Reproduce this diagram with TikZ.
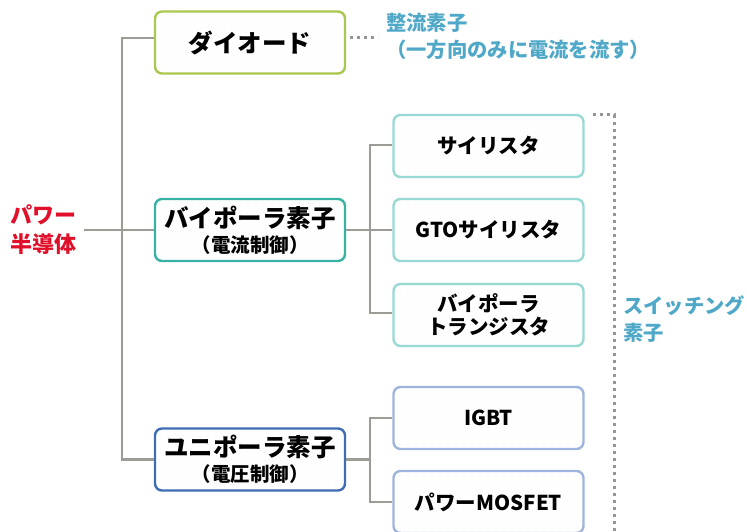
\documentclass[tikz,border=0pt]{standalone}
\usepackage{fontspec}
\setmainfont{Noto Sans CJK JP}
\usetikzlibrary{patterns.meta}
\definecolor{cGreen}{RGB}{168,200,78}
\definecolor{cTeal}{RGB}{55,178,165}
\definecolor{cLTeal}{RGB}{152,217,211}
\definecolor{cBlue}{RGB}{63,109,180}
\definecolor{cLBlue}{RGB}{159,180,220}
\definecolor{cLine}{RGB}{156,156,148}
\definecolor{cRed}{RGB}{224,16,42}
\definecolor{cLabel}{RGB}{79,168,200}
\definecolor{cDot}{RGB}{150,150,150}
\tikzset{
  box/.style={draw, rounded corners=7pt, line width=2.4pt, minimum width=190pt, minimum height=62pt,
    align=center, inner sep=0pt, text=black, font=\bfseries},
  bigbox/.style={box, font=\bfseries\fontsize{24.5}{29}\selectfont},
  smallbox/.style={box, font=\bfseries\fontsize{20.5}{27}\selectfont},
  dotfill/.style={pattern={Dots[distance=8pt,radius=0.6pt]}, pattern color=#1},
  conn/.style={draw=cLine, line width=2.2pt},
  dotline/.style={draw=cDot, line width=3pt, dash pattern=on 3pt off 4pt},
  lbl/.style={text=cLabel, align=left, inner sep=0pt, font=\bfseries\fontsize{20.3}{27}\selectfont},
}
\begin{document}
\begin{tikzpicture}[x=1pt,y=-1pt]
\useasboundingbox (0,0) rectangle (747,532);
% main boxes
\node[bigbox, draw=cGreen, dotfill=cGreen!18] (diode) at (250,42.5) {ダイオード};
\node[bigbox, draw=cTeal, dotfill=cTeal!15] (bip) at (250,230) {バイポーラ素子\\[-4pt]{\fontsize{19.5}{22}\selectfont（電流制御）}};
\node[bigbox, draw=cBlue, dotfill=cBlue!15] (uni) at (250,459.5) {ユニポーラ素子\\[-4pt]{\fontsize{19.5}{22}\selectfont（電圧制御）}};
% sub boxes
\node[smallbox, draw=cLTeal, dotfill=cLTeal!30] (thy) at (488.5,146) {サイリスタ};
\node[smallbox, draw=cLTeal, dotfill=cLTeal!30] (gto) at (488.5,230) {GTOサイリスタ};
\node[smallbox, draw=cLTeal, dotfill=cLTeal!30] (bjt) at (488.5,315) {バイポーラ\\[-4pt]トランジスタ};
\node[smallbox, draw=cLBlue, dotfill=cLBlue!30] (igbt) at (488.5,418) {IGBT};
\node[smallbox, draw=cLBlue, dotfill=cLBlue!30] (mos) at (488.5,502) {パワーMOSFET};
% root
\node[text=cRed, align=left, inner sep=0pt, font=\bfseries\fontsize{22}{29}\selectfont, anchor=west] (root) at (10,230) {パワー\\半導体};
% labels
\node[lbl, anchor=north west] (rect) at (386,13) {整流素子\\（一方向のみに電流を流す）};
\node[lbl, anchor=north west] (sw) at (623,295) {スイッチング\\素子};
% connectors
\draw[conn] ([yshift=4.5pt]diode.west) -- ++(-32,0) |- (uni.west);
\draw[conn] ([xshift=8pt]root.east) -- (bip.west);
\draw[conn] ([yshift=1pt]thy.west) -- ++(-22,0) coordinate (bjn) |- ([yshift=2pt]bjt.west);
\draw[conn] (bip.east) -- (gto.west);
\draw[conn] (igbt.west) -- ++(-22,0) coordinate (ujn) |- (mos.west);
\draw[conn] (uni.east) -- (uni.east -| ujn);
% dotted
\coordinate (dA) at (350,38);
\coordinate (dB) at (378,38);
\draw[dotline] (dA) -- (dB);
\coordinate (swtop) at (593,115);
\coordinate (swbot) at (614,532);
\draw[dotline] (swtop) -| (swbot);
\end{tikzpicture}
\end{document}
